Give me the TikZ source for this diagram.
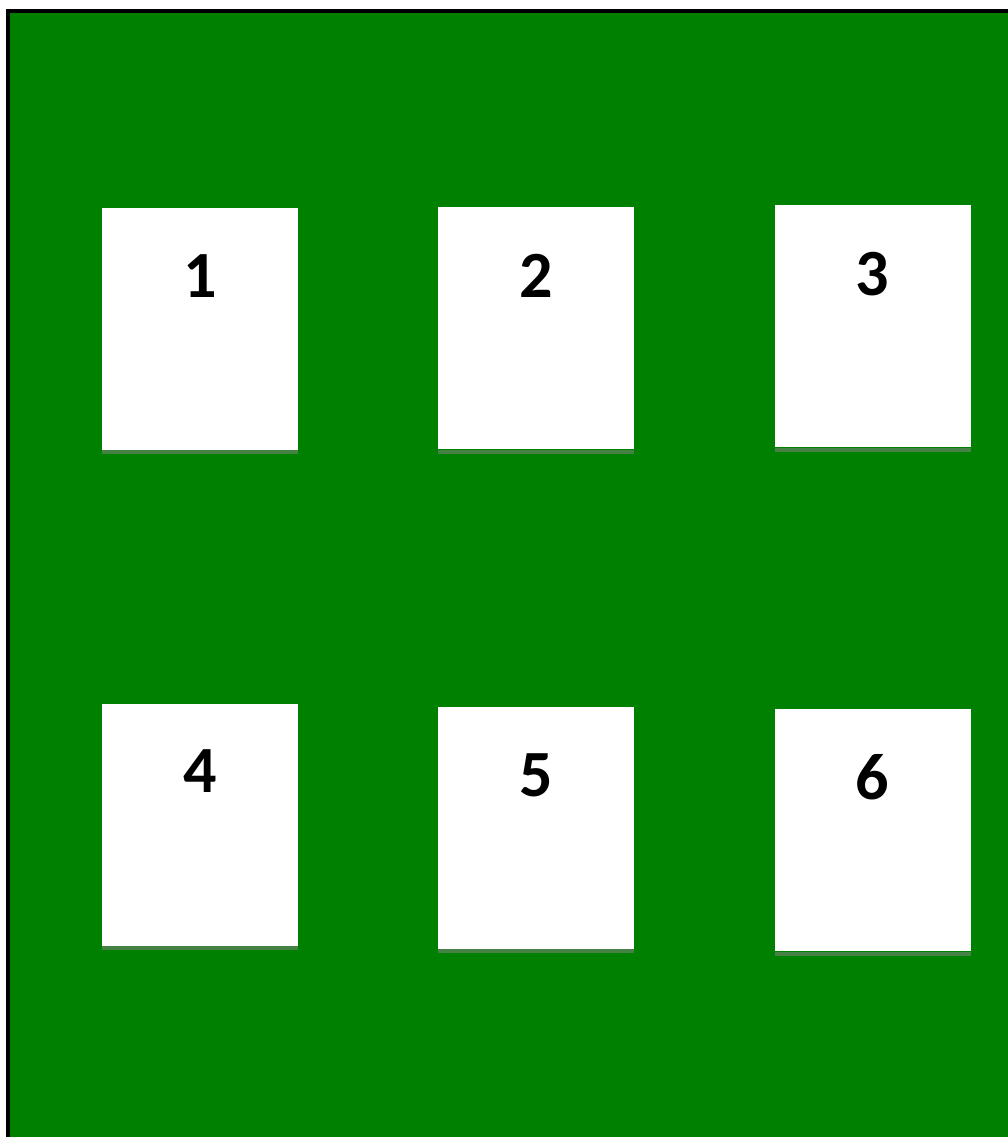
\documentclass[tikz,border=0pt]{standalone}
\usepackage{fontspec}
\setmainfont{Carlito}
\definecolor{fieldgreen}{RGB}{0,128,0}
\definecolor{shadowgreen}{RGB}{70,130,70}
\begin{document}
\begin{tikzpicture}[x=1pt,y=-1pt,
  cardbox/.style={fill=white,draw=none,inner sep=0pt,minimum width=196pt,minimum height=242pt,anchor=north west},
  cardshadow/.style={fill=shadowgreen,draw=none},
  cardnum/.style={anchor=base,inner sep=0pt,font=\fontsize{66}{66}\selectfont\bfseries}]
\useasboundingbox (0,0) rectangle (1008,1137);
\clip (0,0) rectangle (1008,1137);
\fill[fieldgreen] (8,11) rectangle (1030,1160);
\draw[black,line width=3.5pt] (8,11) rectangle (1030,1160);
% shadows
\foreach \x/\y in {102/450,438/450,775/448,102/946,438/949,775/952}{
  \fill[cardshadow] (\x,\y) rectangle ++(196,4);
}
\node[cardbox] (b1) at (102,208) {};
\node[cardbox] (b2) at (438,207) {};
\node[cardbox] (b3) at (775,205) {};
\node[cardbox] (b4) at (102,704) {};
\node[cardbox] (b5) at (438,707) {};
\node[cardbox] (b6) at (775,709) {};
\node[cardnum] (n1) at (200,297) {1};
\node[cardnum] (n2) at (536,297) {2};
\node[cardnum] (n3) at (872,295) {3};
\node[cardnum] (n4) at (200,792) {4};
\node[cardnum] (n5) at (536,796) {5};
\node[cardnum] (n6) at (872,799) {6};
\end{tikzpicture}
\end{document}
